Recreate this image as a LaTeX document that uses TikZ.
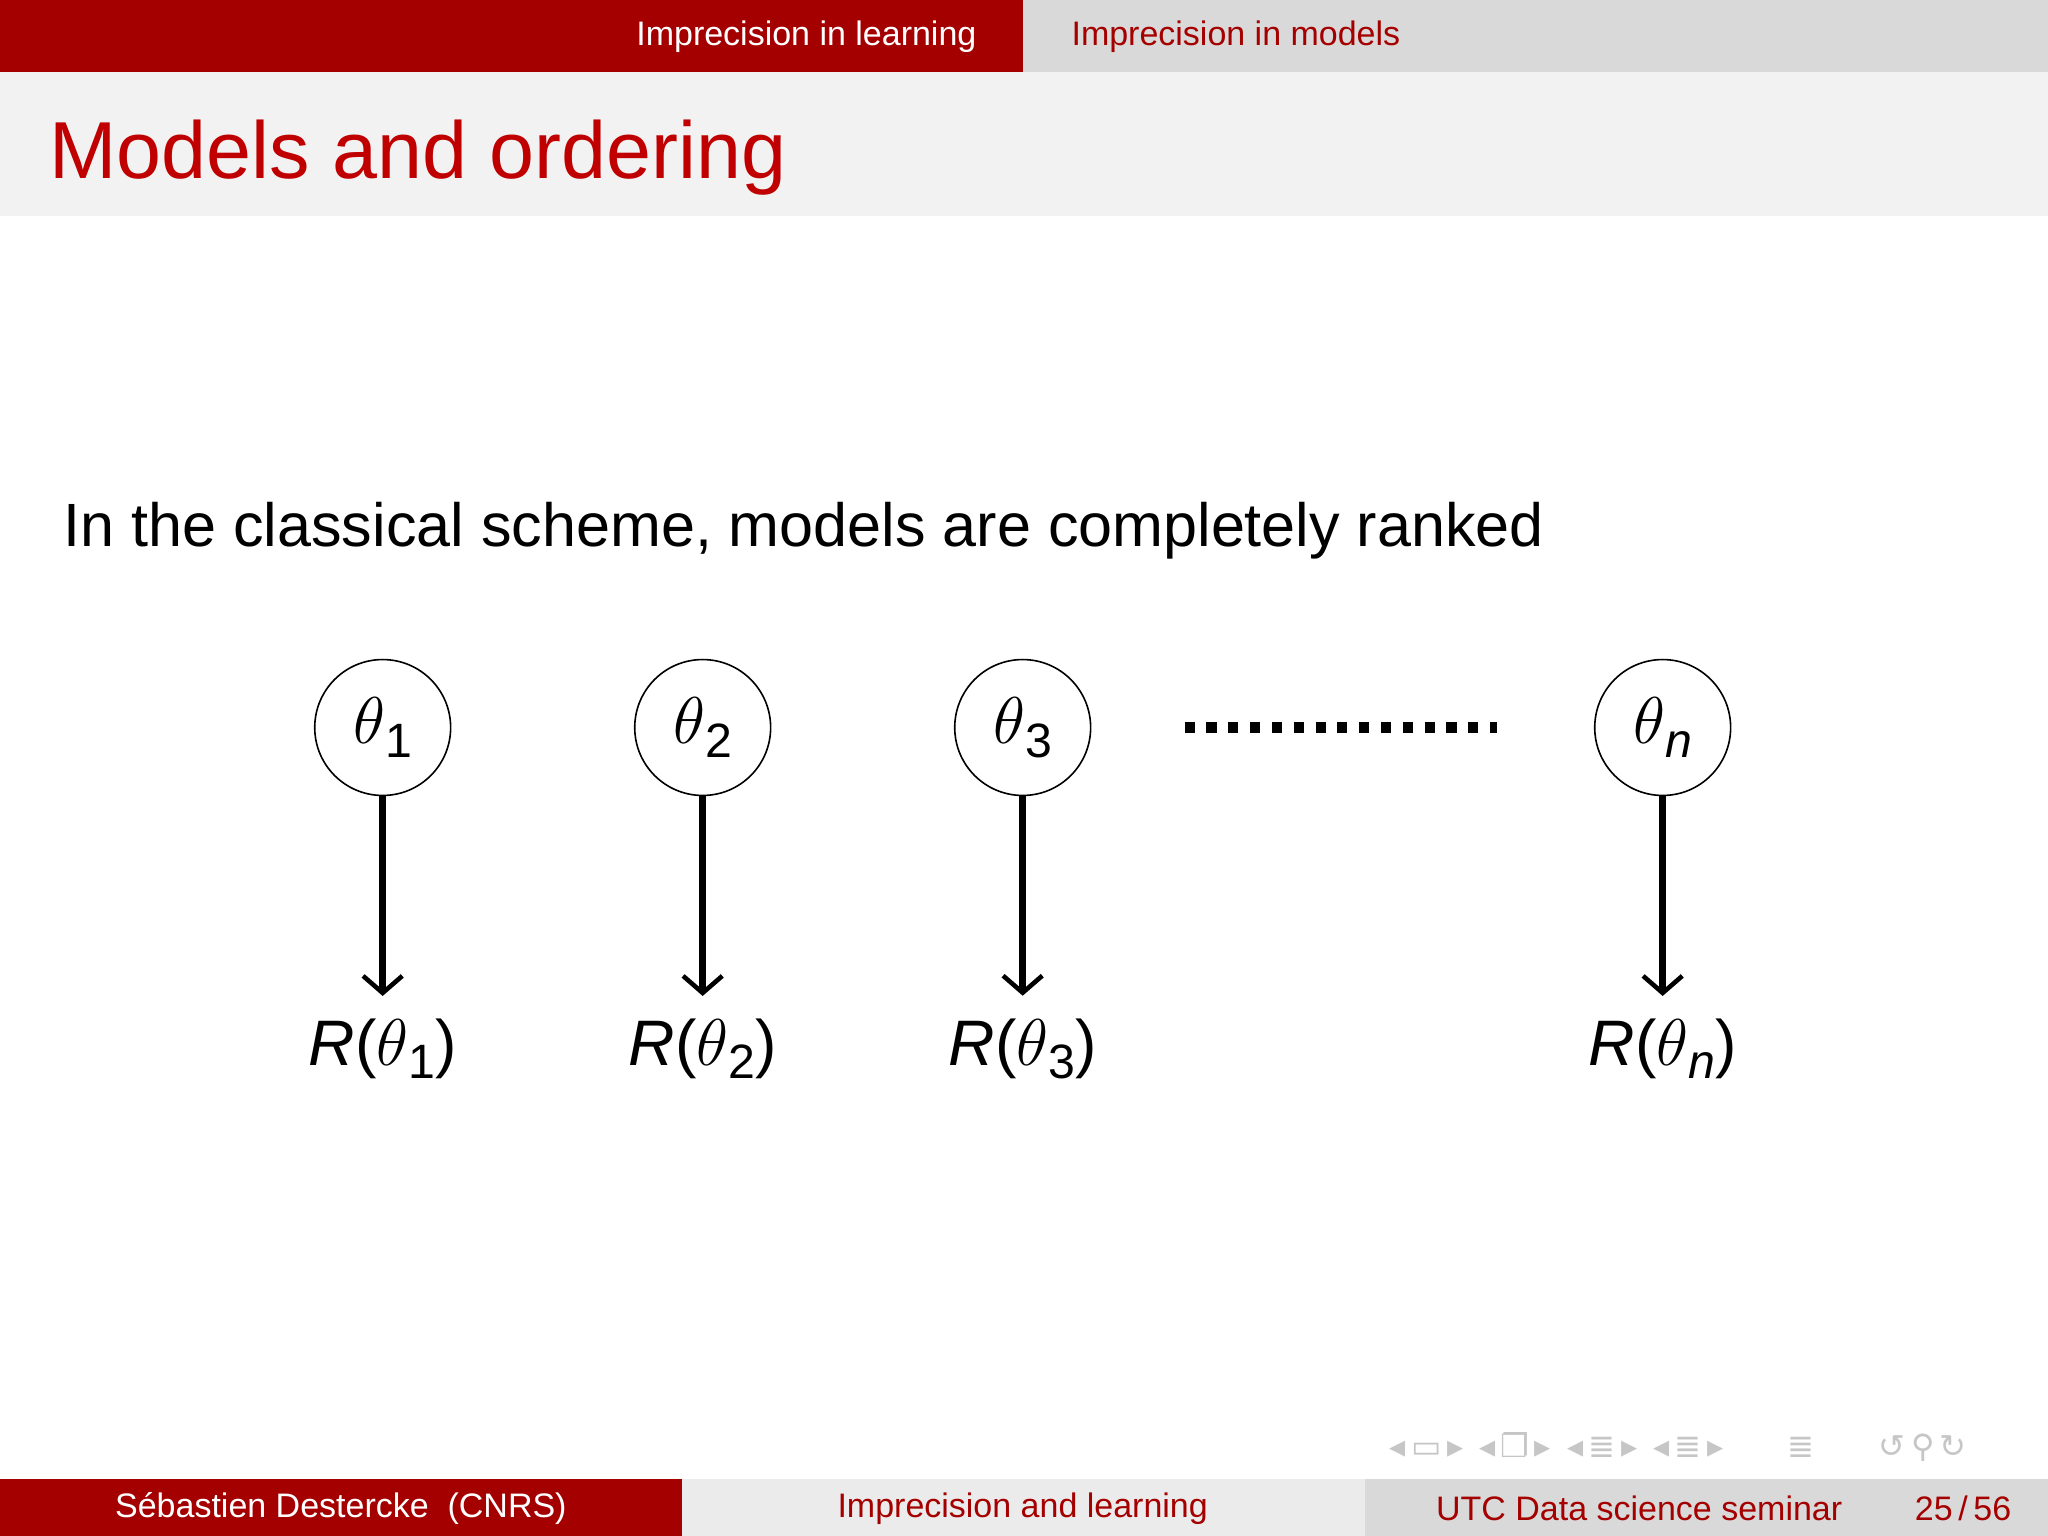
\documentclass[tikz,border=0pt]{standalone}
\usepackage{fontspec}
\setmainfont{Liberation Sans}
\newfontfamily\djv{DejaVu Sans}
\definecolor{hred}{HTML}{A50000}
\definecolor{tred}{HTML}{C00000}
\definecolor{gA}{HTML}{D9D9D9}
\definecolor{gB}{HTML}{F2F2F3}
\definecolor{gC}{HTML}{EBEBEB}
\newcommand{\sub}[1]{\raisebox{-0.4ex}{\fontsize{10.5}{10.5}\selectfont #1}}
\tikzset{model/.style={circle,draw,line width=0.35pt,minimum size=1.04cm,inner sep=0pt,font=\fontsize{14}{14}\selectfont},
risk/.style={font=\fontsize{14}{14}\selectfont},
arr/.style={-{Straight Barb[length=1.3mm,width=3mm,line width=1pt]},line width=1.4pt},
small/.style={font=\fontsize{7.4}{7.4}\selectfont}}
\usetikzlibrary{arrows.meta}
\begin{document}
\begin{tikzpicture}[x=0.01cm,y=-0.01cm]
\useasboundingbox (0,0) rectangle (1568,1176);
\fill[white] (0,0) rectangle (1568,1176);
\fill[hred] (0,0) rectangle (783,55);
\fill[gA] (783,0) rectangle (1568,55);
\fill[gB] (0,55) rectangle (1568,165);
\node[anchor=east,white,small] (h1) at (760,28) {Imprecision in learning};
\node[anchor=west,hred,small] (h2) at (808,28) {Imprecision in models};
\node[anchor=west,tred,font=\fontsize{17.6}{17.6}\selectfont,inner sep=0pt] (t) at (37,121) {Models and ordering};
\node[anchor=west,font=\fontsize{13.3}{13.3}\selectfont,inner sep=0pt] (b) at (48,406) {In the classical scheme, models are completely ranked};
\foreach \i/\x/\s in {1/293/1,2/538/2,3/783/3,n/1273/{\itshape n}}{
 \node[model] (m\i) at (\x,557) {$\theta$\sub{\s}};
 \node[risk] (r\i) at (\x,803) {{\itshape R}($\theta$\sub{\s})};
 \draw[arr] (m\i.south) -- ([yshift=0.05cm]r\i.north);
}
\coordinate (d1) at (907,557); \coordinate (d2) at (1146,557);
\draw[line width=2.2pt,dash pattern=on 2.2pt off 2.55pt] (d1) -- (d2);
\fill[hred] (0,1132) rectangle (522,1176);
\fill[gC] (522,1132) rectangle (1045,1176);
\fill[gA] (1045,1132) rectangle (1568,1176);
\node[white,small] (f1) at (261,1155) {Sébastien Destercke\ \ (CNRS)};
\node[hred,small] (f2) at (783,1155) {Imprecision and learning};
\node[hred,small] (f3) at (1255,1155) {UTC Data science seminar};
\node[hred,small] (f4) at (1503,1155) {25\,/\,56};
\node[gray!45,font=\djv\fontsize{7}{7}\selectfont] (nav) at (1285,1108) {◂\,▭\,▸\enspace ◂\,❐\,▸\enspace ◂\,≣\,▸\enspace ◂\,≣\,▸\qquad ≣\qquad ↺\,⚲\,↻};
\end{tikzpicture}
\end{document}
